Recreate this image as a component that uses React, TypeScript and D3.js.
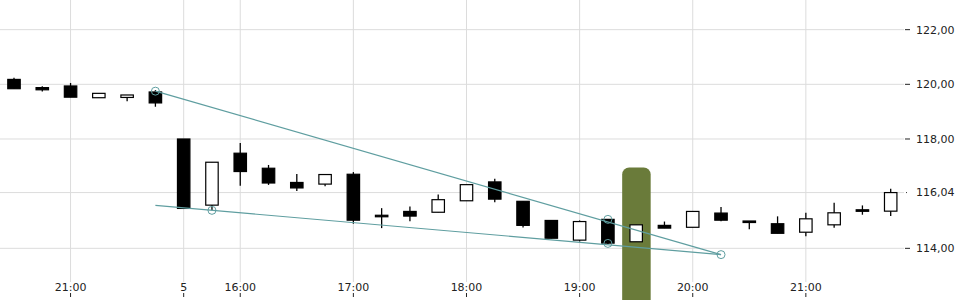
import React, { useEffect } from "react";
import * as d3 from "d3";

const times = [
  "20:30", "20:45", "21:00", "21:15", "21:30", "21:45",
  "15:30", "15:45", "16:00", "16:15", "16:30", "16:45",
  "17:00", "17:15", "17:30", "17:45", "18:00", "18:15",
  "18:30", "18:45", "19:00", "19:15", "19:30", "19:45",
  "20:00", "20:15", "20:30", "20:45", "21:00", "21:15",
  "21:30", "21:45",
];
const opens = [
  120.18, 119.88, 119.94, 119.51, 119.52, 119.72,
  118.0, 115.58, 117.48, 116.93, 116.41, 116.35,
  116.71, 115.21, 115.35, 115.32, 115.74, 116.43,
  115.72, 115.02, 114.3, 115.06, 114.24, 114.84,
  114.77, 115.29, 115.0, 114.9, 114.59, 114.86,
  115.41, 115.36,
];
const highs = [
  120.24, 119.93, 120.05, 119.67, 119.61, 119.79,
  118.0, 117.15, 117.85, 117.05, 116.72, 116.7,
  116.79, 115.47, 115.53, 115.97, 116.33, 116.55,
  115.72, 115.02, 115.02, 115.06, 114.86, 114.98,
  115.35, 115.51, 115.0, 115.17, 115.3, 115.67,
  115.57, 116.18,
];
const lows = [
  119.84, 119.74, 119.53, 119.51, 119.38, 119.18,
  115.46, 115.39, 116.29, 116.32, 116.1, 116.27,
  114.9, 114.74, 114.99, 115.32, 115.74, 115.69,
  114.76, 114.37, 114.25, 114.15, 114.24, 114.74,
  114.77, 114.99, 114.7, 114.55, 114.44, 114.75,
  115.23, 115.18,
];
const closes = [
  119.84, 119.8, 119.53, 119.67, 119.61, 119.32,
  115.46, 117.15, 116.81, 116.39, 116.21, 116.7,
  115.03, 115.19, 115.18, 115.78, 116.33, 115.8,
  114.84, 114.37, 114.98, 114.19, 114.86, 114.74,
  115.35, 115.03, 114.99, 114.55, 115.08, 115.3,
  115.36, 116.04,
];

const xTickIndex = [2, 6, 8, 12, 16, 20, 24, 28];
const xTickLabels = ["21:00", "5", "16:00", "17:00", "18:00", "19:00", "20:00", "21:00"];
const yTicks = [114, 116.04, 118, 120, 122];
const yTickLabels = ["114,00", "116,04", "118,00", "120,00", "122,00"];

const highlightIndex = 22;
const upperLine = [
  { i: 5, v: 119.75 },
  { i: 25, v: 113.77 },
];
const lowerLine = [
  { i: 5, v: 115.57 },
  { i: 25, v: 113.77 },
];
const markers = [
  { i: 5, v: 119.75 },
  { i: 7, v: 115.39 },
  { i: 21, v: 115.06 },
  { i: 21, v: 114.18 },
  { i: 25, v: 113.77 },
];

const W = 960;
const H = 300;

export default function App() {
  useEffect(() => {
    document.body.style.margin = "0";
  }, []);

  const x = d3.scaleLinear().domain([0, times.length - 1]).range([14, 890.7]);
  const y = d3.scaleLinear().domain([112.11, 123.085]).range([H, 0]);
  const step = x(1) - x(0);
  const bodyW = step * 0.44;
  const gridColor = "#dcdcdc";
  const trendColor = "#5f9ea0";
  const line = d3
    .line<{ i: number; v: number }>()
    .x((d) => x(d.i))
    .y((d) => y(d.v));

  return (
    <svg width={W} height={H} style={{ display: "block", fontFamily: "DejaVu Sans", fontSize: 11 }}>
      <rect width={W} height={H} fill="#fff" />
      {/* horizontal grid */}
      {yTicks.map((t, k) => (
        <g key={"y" + k}>
          <line x1={0} x2={904} y1={y(t)} y2={y(t)} stroke={gridColor} strokeWidth={1} />
          {k === 1 ? (
            <line x1={906} x2={907} y1={y(t)} y2={y(t)} stroke="#333" strokeWidth={1} />
          ) : (
            <line x1={905} x2={910} y1={y(t)} y2={y(t)} stroke="#222" strokeWidth={1} />
          )}
          <text x={916} y={y(t)} dy="0.35em" fill="#222">
            {yTickLabels[k]}
          </text>
        </g>
      ))}
      {/* vertical grid */}
      {xTickIndex.map((idx, k) => (
        <g key={"x" + k}>
          <line x1={x(idx)} x2={x(idx)} y1={0} y2={282} stroke={gridColor} strokeWidth={1} />
          <line x1={x(idx)} x2={x(idx)} y1={293} y2={297} stroke="#222" strokeWidth={1} />
          <text x={x(idx)} y={291} textAnchor="middle" fill="#222">
            {xTickLabels[k]}
          </text>
        </g>
      ))}
      {/* highlight */}
      <rect
        x={x(highlightIndex) - 14}
        y={167.5}
        width={28.5}
        height={160}
        rx={7}
        fill="#6a7b3a"
      />
      {/* candles */}
      {times.map((t, i) => {
        const o = opens[i];
        const c = closes[i];
        const up = c > o;
        const top = y(Math.max(o, c));
        const bot = y(Math.min(o, c));
        const h = Math.max(bot - top, 1.5);
        return (
          <g key={"c" + i}>
            <line x1={x(i)} x2={x(i)} y1={y(highs[i])} y2={y(lows[i])} stroke="#000" strokeWidth={1.3} />
            <rect
              x={x(i) - bodyW / 2}
              y={top}
              width={bodyW}
              height={h}
              fill={up ? "#fff" : "#000"}
              stroke="#000"
              strokeWidth={1.2}
            />
          </g>
        );
      })}
      {/* trend lines */}
      <path d={line(upperLine) || ""} fill="none" stroke={trendColor} strokeWidth={1.2} />
      <path d={line(lowerLine) || ""} fill="none" stroke={trendColor} strokeWidth={1.2} />
      {markers.map((m, k) => (
        <circle key={"m" + k} cx={x(m.i)} cy={y(m.v)} r={4} fill="none" stroke={trendColor} strokeWidth={1} />
      ))}
    </svg>
  );
}
